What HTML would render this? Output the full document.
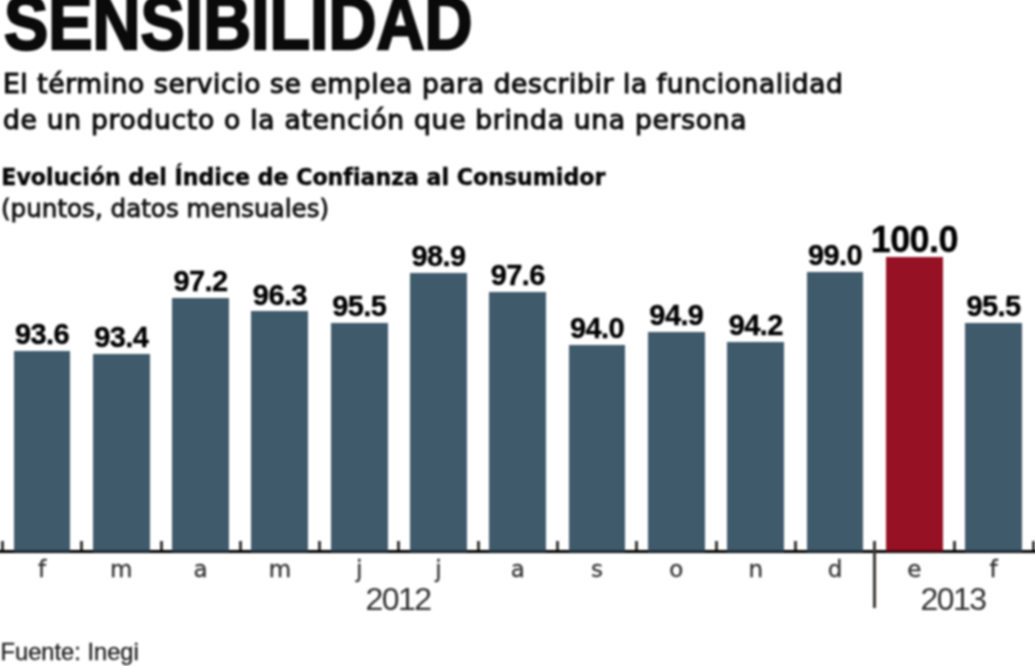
<!DOCTYPE html>
<html lang="es"><head><meta charset="utf-8"><title>Sensibilidad</title>
<style>
html,body{margin:0;padding:0;background:#fff;}
body{width:1035px;height:666px;position:relative;overflow:hidden;font-family:"Liberation Sans",sans-serif;color:#111;}
.abs{position:absolute;white-space:nowrap;line-height:1;}
#title{left:3.5px;top:-14.3px;font-size:75.6px;font-weight:bold;transform-origin:0 0;transform:scaleX(0.878);color:#0a0a0a;-webkit-text-stroke:2.4px #0a0a0a;}
.sub{left:3px;font-size:26.5px;font-family:"DejaVu Sans",sans-serif;color:#0d0d0d;letter-spacing:0.55px;-webkit-text-stroke:1.1px #0d0d0d;}
#h3{left:1.3px;top:165.9px;font-size:22.1px;font-weight:bold;font-family:"DejaVu Sans",sans-serif;color:#050505;-webkit-text-stroke:0.4px #050505;}
#h4{left:1px;top:196.6px;font-size:24.6px;font-family:"DejaVu Sans",sans-serif;color:#111;-webkit-text-stroke:0.8px #111;}
.bar{position:absolute;background:#3f5a6b;box-sizing:border-box;border-bottom:2.4px solid #22333f;}
.bar.red{background:#961123;border-bottom-color:#4a0a12;}
.val{position:absolute;white-space:nowrap;line-height:1;font-weight:bold;font-size:29px;text-align:center;width:100px;letter-spacing:-0.6px;color:#000;-webkit-text-stroke:0.35px #000;}
.val.big{font-size:36px;letter-spacing:-0.6px;}
.mon{position:absolute;white-space:nowrap;line-height:1;font-size:23px;text-align:center;width:60px;color:#2e2e2e;-webkit-text-stroke:0.3px #2e2e2e;font-family:"DejaVu Sans","Liberation Sans",sans-serif;top:558.4px;}
.yr{position:absolute;white-space:nowrap;line-height:1;font-size:32px;text-align:center;width:100px;color:#303030;letter-spacing:-1.6px;top:582.8px;}
#axis{position:absolute;left:-10px;top:549.5px;width:1055px;height:3px;background:#000;}
.tick{position:absolute;width:3px;background:#3a3735;top:541px;height:9px;}
#src{left:0.5px;top:641.2px;font-size:23.7px;color:#1c1c1c;-webkit-text-stroke:0.3px #1c1c1c;}
#wrap{position:absolute;left:0;top:0;width:1035px;height:666px;filter:blur(0.9px);}
</style></head><body>
<div id="wrap">
<div id="title" class="abs">SENSIBILIDAD</div>
<div id="s1" class="abs sub" style="top:70.8px;letter-spacing:0.61px">El término servicio se emplea para describir la funcionalidad</div>
<div id="s2" class="abs sub" style="top:106.6px;letter-spacing:0.73px">de un producto o la atención que brinda una persona</div>
<div id="h3" class="abs">Evolución del Índice de Confianza al Consumidor</div>
<div id="h4" class="abs">(puntos, datos mensuales)</div>

<div id="axis"></div>
<div class="bar" style="left:13.6px;top:351.1px;width:56.9px;height:201.1px"></div>
<div class="val" style="left:-8.0px;top:320.2px">93.6</div>
<div class="mon" style="left:12.0px">f</div>
<div class="bar" style="left:92.8px;top:354.0px;width:56.9px;height:198.2px"></div>
<div class="val" style="left:71.3px;top:323.2px">93.4</div>
<div class="mon" style="left:91.3px">m</div>
<div class="bar" style="left:172.2px;top:298.2px;width:56.9px;height:254.0px"></div>
<div class="val" style="left:150.6px;top:267.3px">97.2</div>
<div class="mon" style="left:170.6px">a</div>
<div class="bar" style="left:251.4px;top:311.4px;width:56.9px;height:240.8px"></div>
<div class="val" style="left:229.9px;top:280.5px">96.3</div>
<div class="mon" style="left:249.9px">m</div>
<div class="bar" style="left:330.8px;top:323.1px;width:56.9px;height:229.1px"></div>
<div class="val" style="left:309.2px;top:292.3px">95.5</div>
<div class="mon" style="left:329.2px">j</div>
<div class="bar" style="left:410.1px;top:273.2px;width:56.9px;height:279.0px"></div>
<div class="val" style="left:388.5px;top:242.3px">98.9</div>
<div class="mon" style="left:408.5px">j</div>
<div class="bar" style="left:489.3px;top:292.3px;width:56.9px;height:259.9px"></div>
<div class="val" style="left:467.8px;top:261.4px">97.6</div>
<div class="mon" style="left:487.8px">a</div>
<div class="bar" style="left:568.6px;top:345.2px;width:56.9px;height:207.0px"></div>
<div class="val" style="left:547.1px;top:314.4px">94.0</div>
<div class="mon" style="left:567.1px">s</div>
<div class="bar" style="left:647.9px;top:332.0px;width:56.9px;height:220.2px"></div>
<div class="val" style="left:626.4px;top:301.1px">94.9</div>
<div class="mon" style="left:646.4px">o</div>
<div class="bar" style="left:727.2px;top:342.3px;width:56.9px;height:209.9px"></div>
<div class="val" style="left:705.7px;top:311.4px">94.2</div>
<div class="mon" style="left:725.7px">n</div>
<div class="bar" style="left:806.5px;top:271.7px;width:56.9px;height:280.5px"></div>
<div class="val" style="left:785.0px;top:240.9px">99.0</div>
<div class="mon" style="left:805.0px">d</div>
<div class="bar red" style="left:885.8px;top:257.0px;width:56.9px;height:295.2px"></div>
<div class="val big" style="left:864.3px;top:221.5px">100.0</div>
<div class="mon" style="left:884.3px">e</div>
<div class="bar" style="left:965.1px;top:323.1px;width:56.9px;height:229.1px"></div>
<div class="val" style="left:943.6px;top:292.3px">95.5</div>
<div class="mon" style="left:963.6px">f</div>
<div class="tick" style="left:0.9px"></div>
<div class="tick" style="left:80.2px"></div>
<div class="tick" style="left:159.5px"></div>
<div class="tick" style="left:238.8px"></div>
<div class="tick" style="left:318.1px"></div>
<div class="tick" style="left:397.4px"></div>
<div class="tick" style="left:476.7px"></div>
<div class="tick" style="left:556.0px"></div>
<div class="tick" style="left:635.3px"></div>
<div class="tick" style="left:714.6px"></div>
<div class="tick" style="left:793.9px"></div>
<div class="tick" style="left:873.2px;top:541px;height:67px"></div>
<div class="tick" style="left:952.5px"></div>
<div class="tick" style="left:1031.8px"></div>
<div class="yr" style="left:348px">2012</div>
<div class="yr" style="left:903px">2013</div>
<div id="src" class="abs">Fuente: Inegi</div>
</div>
</body></html>
